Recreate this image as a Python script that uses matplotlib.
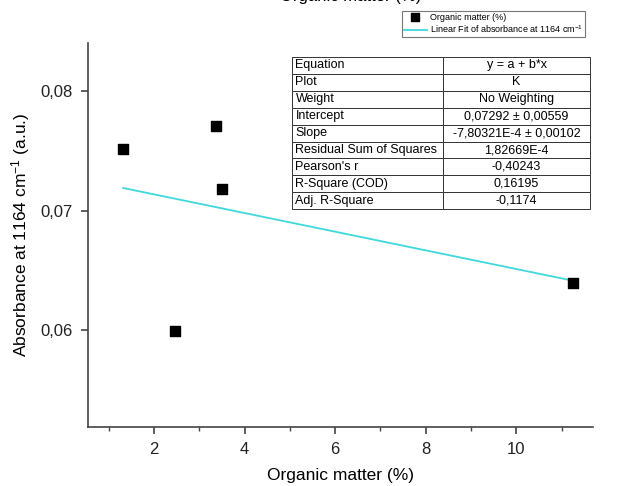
import matplotlib.pyplot as plt
from matplotlib.ticker import FuncFormatter, MultipleLocator

plt.rcParams['font.family'] = ['Liberation Sans', 'DejaVu Sans']
plt.rcParams['mathtext.default'] = 'regular'

# Messwerte
organic_matter = [1.32, 2.46, 3.38, 3.51, 11.24]
absorbance = [0.07514, 0.05994, 0.07711, 0.07181, 0.06398]

# Fit-Parameter (aus der Tabelle)
intercept = 0.07292
slope = -7.80321e-4

table_labels = ['Equation', 'Plot', 'Weight', 'Intercept', 'Slope',
                'Residual Sum of Squares', "Pearson's r", 'R-Square (COD)', 'Adj. R-Square']
table_values = ['y = a + b*x', 'K', 'No Weighting', '0,07292 ± 0,00559',
                '-7,80321E-4 ± 0,00102', '1,82669E-4', '-0,40243', '0,16195', '-0,1174']

fit_color = '#3fd8dc'
spine_color = '#444444'

fig = plt.figure(figsize=(6.2, 4.86), dpi=100)
ax = fig.add_axes([88 / 620, 0.1214, (593 - 88) / 620, 0.790])

ax.scatter(organic_matter, absorbance, marker='s', s=55, color='black', zorder=3,
           label='Organic matter (%)')
fit_x = [min(organic_matter), max(organic_matter)]
fit_y = [intercept + slope * x for x in fit_x]
ax.plot(fit_x, fit_y, color=fit_color, lw=1.3, label='Linear Fit of absorbance at 1164 cm$^{-1}$')

ax.set_xlim(0.545, 11.69)
ax.set_ylim(0.05192, 0.0840)

for s in ['top', 'right']:
    ax.spines[s].set_visible(False)
for s in ['left', 'bottom']:
    ax.spines[s].set_color(spine_color)
    ax.spines[s].set_linewidth(1.2)

ax.xaxis.set_major_locator(MultipleLocator(2))
ax.xaxis.set_minor_locator(MultipleLocator(1))
ax.yaxis.set_major_locator(MultipleLocator(0.01))
ax.tick_params(which='major', direction='out', length=5, width=1.2, color=spine_color,
               labelsize=12, labelcolor='#222222', pad=6)
ax.tick_params(which='minor', direction='out', length=3, width=1.0, color=spine_color)
ax.yaxis.set_major_formatter(FuncFormatter(lambda v, p: f'{v:.2f}'.replace('.', ',')))
ax.xaxis.set_major_formatter(FuncFormatter(lambda v, p: f'{v:.0f}'))

ax.set_xlabel('Organic matter (%)', fontsize=12.5, labelpad=8)
ax.set_ylabel('Absorbance at 1164 cm$^{-1}$ (a.u.)', fontsize=12.5, labelpad=6)

# abgeschnittener Titel oben
fig.text(351 / 620, 1 - 0.5 / 486, 'Organic matter (%)', ha='center', va='baseline',
         fontsize=12)

# Tabelle mit Fit-Ergebnissen
tab = ax.table(cellText=[[a, b] for a, b in zip(table_labels, table_values)],
               colWidths=[0.508, 0.492],
               bbox=[(291.7 - 88) / 505, 0.567, (590 - 291.7) / 505, 0.397])
tab.auto_set_font_size(False)
for (r, c), cell in tab.get_celld().items():
    cell.set_fontsize(9)
    cell.set_linewidth(0.7)
    cell.set_edgecolor('#333333')
    if c == 0:
        cell.set_text_props(ha='left')
        cell.PAD = 0.025
    else:
        cell.set_text_props(ha='center')

leg = fig.legend(loc='upper left', bbox_to_anchor=(401.7 / 620, 1 - 11 / 486),
                 fontsize=6.5, frameon=True, fancybox=False, edgecolor='#555555',
                 handlelength=2.6, handletextpad=0.3, borderpad=0.2, labelspacing=0.2,
                 borderaxespad=0, markerscale=0.85)
leg.get_frame().set_linewidth(0.8)

fig.savefig('out.png', dpi=100)
